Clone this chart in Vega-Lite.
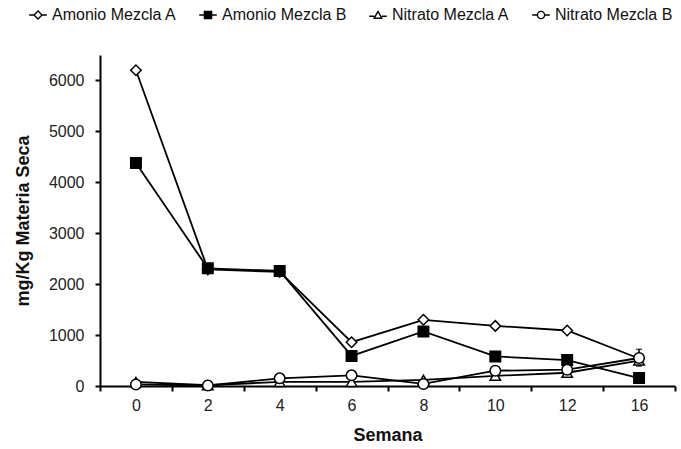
{
  "$schema": "https://vega.github.io/schema/vega-lite/v6.json",
  "autosize": "none",
  "width": 575,
  "height": 331,
  "padding": {"left": 100, "top": 55, "right": 6, "bottom": 63},
  "background": "white",
  "config": {
    "view": {"stroke": null},
    "font": "Liberation Sans",
    "axis": {"labelFont": "Liberation Sans", "titleFont": "Liberation Sans", "labelColor": "#222", "titleColor": "#111", "grid": false, "domainColor": "#000", "tickColor": "#000", "domainWidth": 2, "tickWidth": 2}
  },
  "data": {
    "values": [
      {"semana": 0, "serie": "Amonio Mezcla A", "valor": 6200},
      {"semana": 2, "serie": "Amonio Mezcla A", "valor": 2290},
      {"semana": 4, "serie": "Amonio Mezcla A", "valor": 2240},
      {"semana": 6, "serie": "Amonio Mezcla A", "valor": 860},
      {"semana": 8, "serie": "Amonio Mezcla A", "valor": 1300},
      {"semana": 10, "serie": "Amonio Mezcla A", "valor": 1180},
      {"semana": 12, "serie": "Amonio Mezcla A", "valor": 1090},
      {"semana": 16, "serie": "Amonio Mezcla A", "valor": 540},
      {"semana": 0, "serie": "Amonio Mezcla B", "valor": 4380},
      {"semana": 2, "serie": "Amonio Mezcla B", "valor": 2310},
      {"semana": 4, "serie": "Amonio Mezcla B", "valor": 2260},
      {"semana": 6, "serie": "Amonio Mezcla B", "valor": 590},
      {"semana": 8, "serie": "Amonio Mezcla B", "valor": 1070},
      {"semana": 10, "serie": "Amonio Mezcla B", "valor": 580},
      {"semana": 12, "serie": "Amonio Mezcla B", "valor": 510},
      {"semana": 16, "serie": "Amonio Mezcla B", "valor": 155},
      {"semana": 0, "serie": "Nitrato Mezcla A", "valor": 80},
      {"semana": 2, "serie": "Nitrato Mezcla A", "valor": 15},
      {"semana": 4, "serie": "Nitrato Mezcla A", "valor": 80},
      {"semana": 6, "serie": "Nitrato Mezcla A", "valor": 80},
      {"semana": 8, "serie": "Nitrato Mezcla A", "valor": 120},
      {"semana": 10, "serie": "Nitrato Mezcla A", "valor": 200},
      {"semana": 12, "serie": "Nitrato Mezcla A", "valor": 260},
      {"semana": 16, "serie": "Nitrato Mezcla A", "valor": 500},
      {"semana": 0, "serie": "Nitrato Mezcla B", "valor": 30},
      {"semana": 2, "serie": "Nitrato Mezcla B", "valor": 10},
      {"semana": 4, "serie": "Nitrato Mezcla B", "valor": 150},
      {"semana": 6, "serie": "Nitrato Mezcla B", "valor": 210},
      {"semana": 8, "serie": "Nitrato Mezcla B", "valor": 40},
      {"semana": 10, "serie": "Nitrato Mezcla B", "valor": 300},
      {"semana": 12, "serie": "Nitrato Mezcla B", "valor": 320},
      {"semana": 16, "serie": "Nitrato Mezcla B", "valor": 550, "lo": 390, "hi": 720}
    ]
  },
  "encoding": {
    "x": {
      "field": "semana", "type": "ordinal",
      "scale": {"type": "band", "paddingInner": 0, "paddingOuter": 0},
      "axis": {"title": "Semana", "labelAngle": 0, "labelFontSize": 16, "titleFontSize": 18, "titleFontWeight": "bold", "tickBand": "extent", "tickSize": 5, "labelPadding": 6, "titlePadding": 13}
    },
    "y": {
      "field": "valor", "type": "quantitative",
      "scale": {"domain": [0, 6500], "nice": false},
      "axis": {"title": "mg/Kg Materia Seca", "format": "d", "values": [0, 1000, 2000, 3000, 4000, 5000, 6000], "labelFontSize": 16, "titleFontSize": 18, "titleFontWeight": "bold", "tickSize": 5, "labelPadding": 11, "titlePadding": 16}
    }
  },
  "resolve": {"scale": {"shape": "independent"}, "legend": {"shape": "independent"}},
  "layer": [
    {
      "mark": {"type": "line", "color": "#000", "strokeWidth": 1.8},
      "encoding": {"detail": {"field": "serie"}}
    },
    {
      "transform": [{"filter": "isValid(datum.lo)"}],
      "mark": {"type": "errorbar", "color": "#000", "thickness": 1.5, "ticks": {"size": 6, "color": "#000"}},
      "encoding": {"y": {"field": "lo", "type": "quantitative"}, "y2": {"field": "hi"}}
    },
    {
      "mark": {"type": "point", "filled": false, "stroke": "#000", "strokeWidth": 1.5, "size": 110, "opacity": 1},
      "encoding": {
        "shape": {
          "field": "serie", "type": "nominal",
          "scale": {"domain": ["Amonio Mezcla A", "Amonio Mezcla B", "Nitrato Mezcla A", "Nitrato Mezcla B"], "range": ["diamond", "square", "triangle-up", "circle"]},
          "legend": null
        },
        "fill": {"condition": {"test": "datum.serie === 'Amonio Mezcla B'", "value": "#000"}, "value": "#fff"}
      }
    },
    {
      "mark": {"type": "point", "filled": false, "opacity": 0},
      "encoding": {
        "shape": {
          "field": "serie", "type": "nominal",
          "scale": {"domain": ["Amonio Mezcla A", "Amonio Mezcla B", "Nitrato Mezcla A", "Nitrato Mezcla B"], "range": [
            "M-2.2,0L-1,0M1,0L2.2,0M-1,0L0,-1L1,0L0,1Z",
            "M-2.2,0L-0.9,0M0.9,0L2.2,0M-0.9,-0.9L0.9,-0.9L0.9,0.9L-0.9,0.9ZM-0.9,-0.6L0.9,-0.6M-0.9,-0.3L0.9,-0.3M-0.9,0L0.9,0M-0.9,0.3L0.9,0.3M-0.9,0.6L0.9,0.6",
            "M-2.2,0.3L-0.95,0.3M0.95,0.3L2.2,0.3M-0.95,0.8L0,-0.9L0.95,0.8Z",
            "M-2.2,0L-0.9,0M0.9,0L2.2,0M-0.9,0A0.9,0.9,0,1,1,0.9,0A0.9,0.9,0,1,1,-0.9,0Z"
          ]},
          "legend": {
            "title": null, "orient": "none", "direction": "horizontal", "columns": 4,
            "legendX": -70, "legendY": -48,
            "labelFontSize": 16, "labelColor": "#111", "labelFont": "Liberation Sans",
            "symbolSize": 64, "symbolStrokeWidth": 1.4, "labelOffset": 6, "columnPadding": 19,
            "symbolStrokeColor": "#000", "symbolFillColor": "#fff", "symbolOpacity": 1
          }
        }
      }
    }
  ]
}
